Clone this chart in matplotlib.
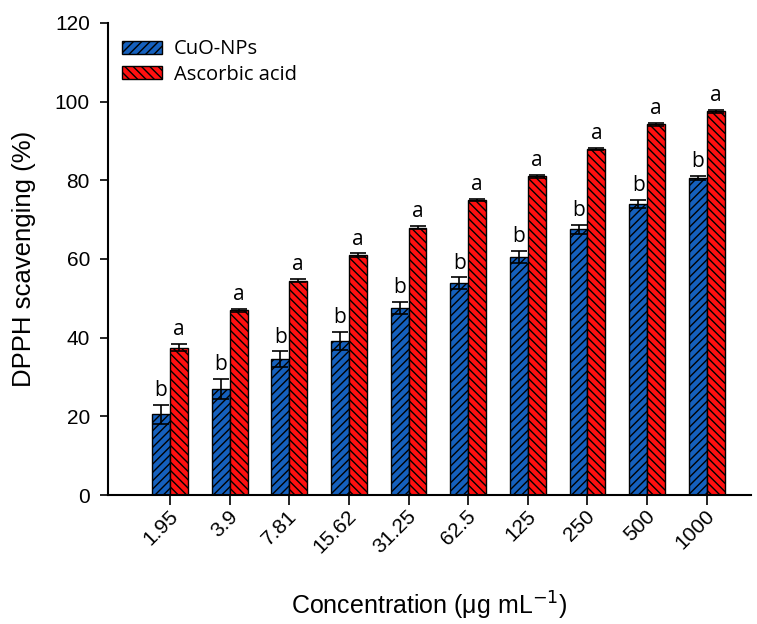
import matplotlib
matplotlib.use("Agg")
import matplotlib.pyplot as plt
import numpy as np

categories = ["1.95", "3.9", "7.81", "15.62", "31.25", "62.5", "125", "250", "500", "1000"]
cuo = [20.5, 27.0, 34.5, 39.2, 47.5, 53.8, 60.5, 67.5, 74.0, 80.6]
cuo_err = [2.5, 2.5, 2.0, 2.3, 1.6, 1.5, 1.5, 1.2, 1.0, 0.5]
asc = [37.5, 47.0, 54.5, 61.0, 68.0, 75.0, 81.0, 88.0, 94.2, 97.5]
asc_err = [0.8, 0.4, 0.4, 0.4, 0.3, 0.3, 0.3, 0.3, 0.3, 0.3]
cuo_letters = ["b"] * 10
asc_letters = ["a"] * 10

plt.rcParams['font.family'] = ['Liberation Sans', 'DejaVu Sans']
plt.rcParams['hatch.linewidth'] = 1.0
plt.rcParams['hatch.color'] = 'black'

fig = plt.figure(figsize=(7.57, 6.24), dpi=100)
ax = fig.add_axes([0.1427, 0.2067, 0.850, 0.7565])

x = np.arange(len(categories))
w = 0.3
ax.bar(x - w/2, cuo, w, color='#1560bd', edgecolor='black', linewidth=1.0, hatch='////',
       yerr=cuo_err, capsize=6, error_kw=dict(elinewidth=1.2, capthick=1.2, ecolor='black'),
       label='CuO-NPs')
ax.bar(x + w/2, asc, w, color='#ff1010', edgecolor='black', linewidth=1.0, hatch='\\\\\\\\',
       yerr=asc_err, capsize=6, error_kw=dict(elinewidth=1.2, capthick=1.2, ecolor='black'),
       label='Ascorbic acid')

for i in range(len(categories)):
    ax.text(x[i] - w/2, cuo[i] + cuo_err[i] + 1.0, cuo_letters[i], ha='center', va='bottom',
            fontsize=15, family=['Open Sans', 'DejaVu Sans'])
    ax.text(x[i] + w/2, asc[i] + asc_err[i] + 1.0, asc_letters[i], ha='center', va='bottom',
            fontsize=15, family=['Open Sans', 'DejaVu Sans'])

ax.set_xlim(-1.04, 9.75)
ax.set_ylim(0, 120)
ax.set_yticks([0, 20, 40, 60, 80, 100, 120])
ax.set_xticks(x)
ax.set_xticklabels(categories, rotation=45, ha='right', rotation_mode='anchor', fontsize=15)
ax.tick_params(axis='y', labelsize=15, direction='out', length=6, width=1.2, pad=7)
ax.tick_params(axis='x', direction='out', length=7, width=1.2)
for lab in ax.get_xticklabels():
    lab.set_transform(lab.get_transform() + matplotlib.transforms.ScaledTranslation(-0.02, 0.03, fig.dpi_scale_trans))
ax.spines['top'].set_visible(False)
ax.spines['right'].set_visible(False)
ax.spines['left'].set_linewidth(1.5)
ax.spines['bottom'].set_linewidth(1.5)

ax.set_ylabel('DPPH scavenging (%)', fontsize=18.5, va='center')
ax.yaxis.set_label_coords(-0.13, 0.5)
ax.set_xlabel('Concentration ($\\mathregular{\\mu}$g mL$^{-1}$)', fontsize=18, va='center')
ax.xaxis.set_label_coords(0.5, -0.234)

leg = ax.legend(loc='upper left', bbox_to_anchor=(0.022, 0.965), frameon=False,
                prop={'family': ['Open Sans', 'DejaVu Sans'], 'size': 14.5},
                handlelength=2.0, handleheight=0.65, labelspacing=0.25, borderaxespad=0.0,
                borderpad=0.0, handletextpad=0.55)

fig.savefig('out.png', dpi=100)
